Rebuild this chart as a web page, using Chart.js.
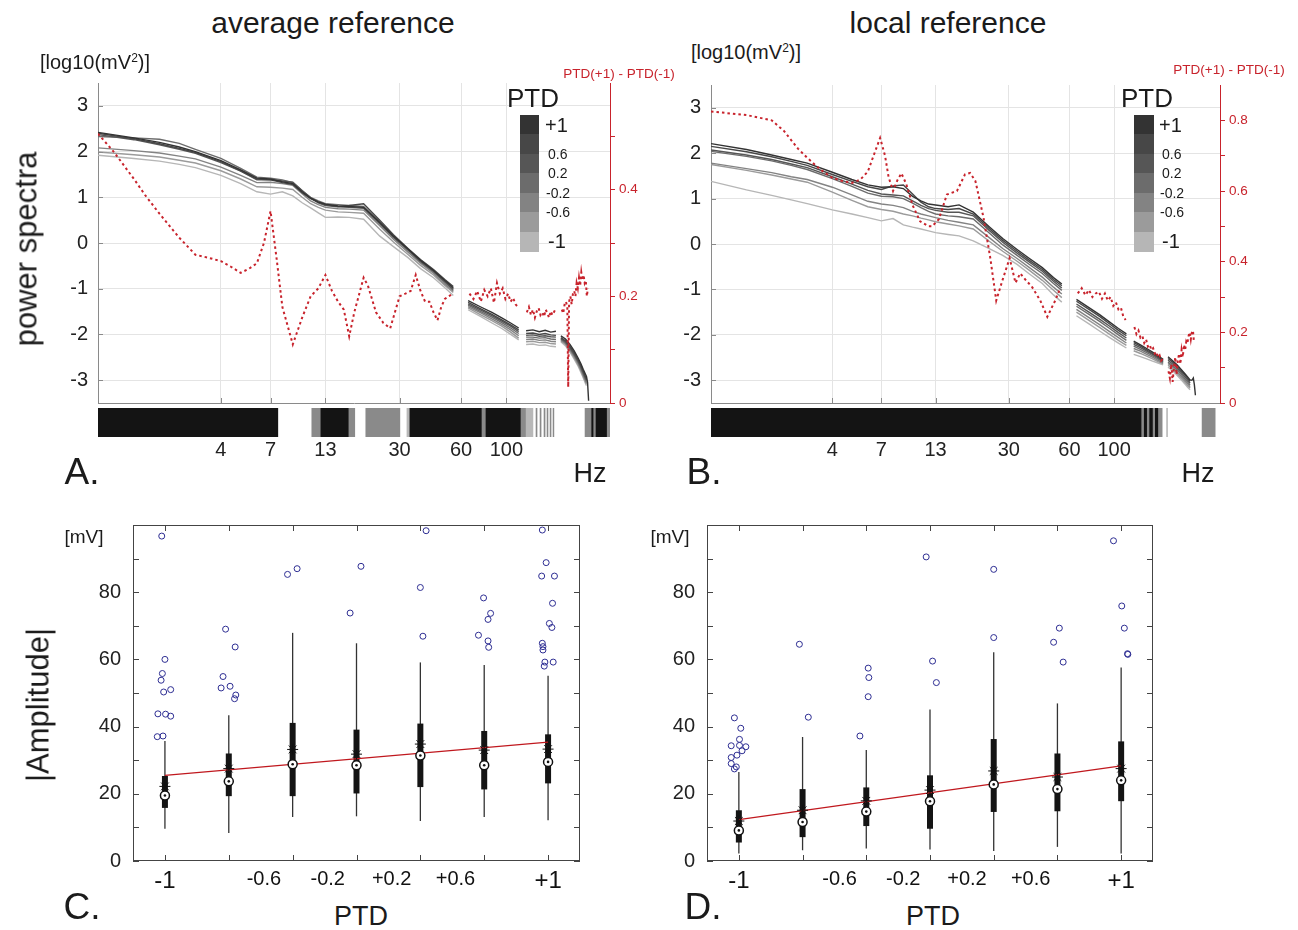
<!DOCTYPE html>
<html>
<head>
<meta charset="utf-8">
<title>PTD power spectra and amplitude</title>
<script src="https://cdn.jsdelivr.net/npm/chart.js@4.4.1/dist/chart.umd.min.js"></script>
<style>
html,body{margin:0;padding:0;background:#fff;}
body{width:1298px;height:930px;position:relative;overflow:hidden;font-family:"Liberation Sans",Arial,Helvetica,sans-serif;color:#1b1b1b;}
canvas{position:absolute;}
.t{position:absolute;white-space:nowrap;line-height:1;transform:translate(-50%,-50%);}
.l{position:absolute;white-space:nowrap;line-height:1;transform:translateY(-50%);}
.rot{transform:translate(-50%,-50%) rotate(-90deg);}
.red{color:#c8232c;}
.sw{position:absolute;}
sup{font-size:0.6em;vertical-align:0.6em;line-height:0;}
</style>
</head>
<body>
<canvas id="cA" width="640" height="340" style="left:30px;top:70px;width:640px;height:340px"></canvas>
<canvas id="cB" width="650" height="340" style="left:640px;top:70px;width:650px;height:340px"></canvas>
<canvas id="sA" width="530" height="65" style="left:90px;top:400px;width:530px;height:65px"></canvas>
<canvas id="sB" width="535" height="65" style="left:700px;top:400px;width:535px;height:65px"></canvas>
<canvas id="cC" width="560" height="400" style="left:50px;top:500px;width:560px;height:400px"></canvas>
<canvas id="cD" width="560" height="400" style="left:630px;top:500px;width:560px;height:400px"></canvas>

<div class="t" style="left:333px;top:23px;font-size:30px">average reference</div>
<div class="t" style="left:948px;top:23px;font-size:30px">local reference</div>
<div class="t" style="left:95px;top:62px;font-size:20px">[log10(mV<sup>2</sup>)]</div>
<div class="t" style="left:746px;top:52px;font-size:20px">[log10(mV<sup>2</sup>)]</div>
<div class="t rot" style="left:26px;top:249px;font-size:31px">power spectra</div>
<div class="t red" style="left:619px;top:74px;font-size:13.5px">PTD(+1) - PTD(-1)</div>
<div class="t red" style="left:1229px;top:70px;font-size:13.5px">PTD(+1) - PTD(-1)</div>
<div class="t" style="left:533px;top:98px;font-size:26px">PTD</div>
<div class="t" style="left:1147px;top:98px;font-size:26px">PTD</div>
<div class="t" style="left:590px;top:473px;font-size:27px">Hz</div>
<div class="t" style="left:1198px;top:473px;font-size:27px">Hz</div>
<div class="t" style="left:82px;top:471px;font-size:37px">A.</div>
<div class="t" style="left:704px;top:471px;font-size:37px">B.</div>
<div class="t" style="left:84px;top:536px;font-size:19px">[mV]</div>
<div class="t" style="left:670px;top:536px;font-size:19px">[mV]</div>
<div class="t rot" style="left:38px;top:705px;font-size:31px">|Amplitude|</div>
<div class="t" style="left:361px;top:916px;font-size:27px">PTD</div>
<div class="t" style="left:933px;top:916px;font-size:27px">PTD</div>
<div class="t" style="left:82px;top:906px;font-size:37px">C.</div>
<div class="t" style="left:703px;top:906px;font-size:37px">D.</div>
<div id="legends"></div>

<script>
// ================= DATA =================
// PTD groups, darkest (+1) to lightest (-1)
const ptdColors = ['#333333', '#474747', '#565656', '#6c6c6c', '#838383', '#9b9b9b', '#b6b6b6'];
const legendText = ['+1', '0.6', '0.2', '-0.2', '-0.6', '-1'];

// frequency axis (Hz); null rows are the removed line-noise bands
const freqTicks = [4, 7, 13, 30, 60, 100];
const powerTicks = [-3, -2, -1, 0, 1, 2, 3];
const freqHz = [1, 1.5, 2, 2.5, 3, 4, 5, 6, 7, 8, 9, 10, 11, 12, 13, 15, 17, 20, 24, 28, 33, 38, 44, 50, 55,
  60, 65, 75, 85, 95, 105, 115, 120, 125, 135, 145, 155, 165, 175, 180,
  185, 195, 205, 215, 225, 232, 238, 243, 247, 250, 253];

// A. average reference, log10 power per PTD group
const avgS0 = [2.42, 2.30, 2.20, 2.10, 2.00, 1.80, 1.60, 1.42, 1.40, 1.34, 1.30, 1.12, 0.98, 0.90, 0.85, 0.81, 0.80, 0.78, 0.45, 0.15, -0.13, -0.38, -0.60, -0.82, -0.98,
  null, -1.26, -1.40, -1.52, -1.64, -1.75, -1.86, null, -1.92, -1.90, -1.94, -1.91, -1.95, -1.93, null,
  -2.03, -2.10, -2.22, -2.36, -2.52, -2.64, -2.76, -2.85, -2.92, -3.05, -3.45];
const avgS1 = [2.40, 2.28, 2.17, 2.07, 1.98, 1.78, 1.58, 1.40, 1.38, 1.32, 1.28, 1.10, 0.97, 0.89, 0.84, 0.80, 0.82, 0.86, 0.50, 0.18, -0.12, -0.36, -0.58, -0.80, -0.95,
  null, -1.30, -1.44, -1.56, -1.68, -1.79, -1.90, null, -1.98, -1.97, -2.00, -1.98, -2.01, -2.02, null,
  -2.07, -2.14, -2.26, -2.40, -2.56, -2.68, -2.80, -2.90, -2.97, null, null];
const avgS2 = [2.37, 2.26, 2.15, 2.05, 1.96, 1.76, 1.57, 1.38, 1.39, 1.36, 1.33, 1.15, 0.99, 0.88, 0.82, 0.79, 0.78, 0.76, 0.42, 0.12, -0.16, -0.41, -0.63, -0.86, -1.02,
  null, -1.33, -1.47, -1.59, -1.71, -1.82, -1.94, null, -2.02, -2.01, -2.04, -2.03, -2.05, -2.06, null,
  -2.09, -2.16, -2.29, -2.43, -2.59, -2.71, -2.83, -2.93, -3.00, null, null];
const avgS3 = [2.33, 2.30, 2.27, 2.18, 2.05, 1.85, 1.63, 1.44, 1.42, 1.38, 1.32, 1.14, 1.00, 0.92, 0.86, 0.84, 0.82, 0.80, 0.47, 0.16, -0.14, -0.39, -0.61, -0.84, -1.00,
  null, -1.36, -1.50, -1.62, -1.74, -1.86, -1.98, null, -2.06, -2.06, -2.08, -2.07, -2.10, -2.11, null,
  -2.10, -2.18, -2.31, -2.45, -2.61, -2.74, -2.86, -2.96, -3.03, null, null];
const avgS4 = [2.08, 2.02, 1.97, 1.90, 1.84, 1.66, 1.48, 1.32, 1.33, 1.30, 1.26, 1.08, 0.92, 0.84, 0.78, 0.75, 0.74, 0.72, 0.38, 0.08, -0.20, -0.44, -0.66, -0.90, -1.05,
  null, -1.39, -1.53, -1.66, -1.78, -1.90, -2.03, null, -2.11, -2.10, -2.13, -2.12, -2.15, -2.16, null,
  -2.12, -2.20, -2.33, -2.48, -2.64, -2.77, -2.89, -2.99, -3.06, null, null];
const avgS5 = [1.99, 1.93, 1.88, 1.81, 1.75, 1.58, 1.40, 1.23, 1.22, 1.20, 1.17, 1.00, 0.86, 0.78, 0.72, 0.68, 0.67, 0.65, 0.30, 0.02, -0.25, -0.49, -0.70, -0.93, -1.08,
  null, -1.42, -1.57, -1.70, -1.82, -1.95, -2.08, null, -2.16, -2.15, -2.18, -2.17, -2.20, -2.21, null,
  -2.14, -2.22, -2.36, -2.51, -2.67, -2.80, -2.92, -3.02, -3.09, null, null];
const avgS6 = [1.92, 1.85, 1.79, 1.72, 1.65, 1.48, 1.30, 1.12, 1.07, 1.12, 1.03, 0.88, 0.77, 0.66, 0.56, 0.57, 0.56, 0.52, 0.15, -0.08, -0.32, -0.56, -0.76, -0.98, -1.15,
  null, -1.46, -1.61, -1.75, -1.87, -2.00, -2.12, null, -2.22, -2.21, -2.24, -2.23, -2.26, -2.27, null,
  -2.16, -2.25, -2.39, -2.54, -2.70, -2.83, -2.95, -3.05, -3.12, null, null];

// B. local reference
const locS0 = [2.21, 2.08, 1.96, 1.86, 1.78, 1.58, 1.42, 1.30, 1.25, 1.26, 1.22, 1.05, 0.95, 0.88, 0.86, 0.82, 0.86, 0.70, 0.38, 0.12, -0.12, -0.32, -0.52, -0.74, -0.88,
  null, -1.22, -1.40, -1.56, -1.72, -1.86, -1.98, null, -2.14, -2.22, -2.30, -2.38, -2.46, -2.54, null,
  -2.48, -2.57, -2.66, -2.76, -2.86, -2.93, -2.99, -3.00, -2.95, -3.10, -3.33];
const locS1 = [2.15, 2.03, 1.92, 1.82, 1.73, 1.53, 1.38, 1.26, 1.20, 1.28, 1.30, 1.10, 0.92, 0.82, 0.78, 0.76, 0.78, 0.66, 0.34, 0.08, -0.16, -0.36, -0.56, -0.78, -0.92,
  null, -1.26, -1.44, -1.60, -1.76, -1.90, -2.02, null, -2.17, -2.25, -2.33, -2.41, -2.48, -2.56, null,
  -2.52, -2.60, -2.69, -2.79, -2.89, -2.96, -3.02, null, null, null, null];
const locS2 = [2.07, 1.96, 1.86, 1.76, 1.68, 1.48, 1.32, 1.18, 1.10, 1.08, 1.06, 0.95, 0.85, 0.78, 0.74, 0.70, 0.70, 0.62, 0.30, 0.04, -0.20, -0.40, -0.60, -0.82, -0.97,
  null, -1.32, -1.50, -1.66, -1.81, -1.95, -2.07, null, -2.21, -2.28, -2.36, -2.43, -2.50, -2.58, null,
  -2.56, -2.64, -2.73, -2.83, -2.93, -3.00, -3.06, null, null, null, null];
const locS3 = [2.04, 1.93, 1.83, 1.73, 1.64, 1.44, 1.27, 1.12, 1.05, 1.04, 1.00, 0.90, 0.80, 0.72, 0.66, 0.62, 0.60, 0.55, 0.24, -0.02, -0.25, -0.45, -0.65, -0.87, -1.02,
  null, -1.37, -1.55, -1.71, -1.86, -2.00, -2.12, null, -2.25, -2.32, -2.39, -2.46, -2.53, -2.60, null,
  -2.60, -2.68, -2.77, -2.87, -2.97, -3.04, -3.10, null, null, null, null];
const locS4 = [1.78, 1.66, 1.57, 1.48, 1.42, 1.25, 1.08, 0.94, 0.88, 0.85, 0.80, 0.72, 0.66, 0.62, 0.58, 0.52, 0.48, 0.42, 0.14, -0.10, -0.32, -0.52, -0.73, -0.95, -1.10,
  null, -1.44, -1.62, -1.78, -1.93, -2.06, -2.18, null, -2.30, -2.36, -2.43, -2.49, -2.56, -2.62, null,
  -2.63, -2.71, -2.81, -2.91, -3.01, -3.08, -3.14, null, null, null, null];
const locS5 = [1.75, 1.62, 1.52, 1.43, 1.36, 1.14, 0.96, 0.82, 0.76, 0.72, 0.66, 0.62, 0.57, 0.53, 0.49, 0.44, 0.40, 0.33, 0.06, -0.16, -0.38, -0.58, -0.80, -1.02, -1.18,
  null, -1.50, -1.68, -1.84, -1.99, -2.12, -2.23, null, -2.35, -2.41, -2.47, -2.53, -2.59, -2.64, null,
  -2.67, -2.75, -2.85, -2.95, -3.05, -3.12, -3.17, null, null, null, null];
const locS6 = [1.38, 1.19, 1.07, 0.97, 0.89, 0.75, 0.66, 0.58, 0.51, 0.56, 0.42, 0.37, 0.33, 0.29, 0.25, 0.21, 0.18, 0.07, -0.10, -0.25, -0.45, -0.66, -0.87, -1.12, -1.28,
  null, -1.58, -1.76, -1.92, -2.06, -2.18, -2.29, null, -2.43, -2.48, -2.53, -2.58, -2.62, -2.66, null,
  -2.71, -2.79, -2.89, -2.99, -3.09, -3.16, -3.21, null, null, null, null];

// PTD(+1) - PTD(-1) difference (right axis)
const diffFreqA = [1, 1.2, 1.5, 1.7, 2, 2.5, 3, 3.5, 4, 4.5, 5, 5.5, 6, 6.5, 7, 7.5, 8, 9, 10, 11, 12, 13, 14, 15, 16, 17, 18, 20, 21, 23, 25, 27, 30, 32, 34, 36, 38, 40, 42, 44, 46, 48, 50, 52, 55,
  60, 66, 69, 72, 75, 78, 81, 84, 87, 90, 93, 96, 99, 102, 105, 108, 111, 114,
  120, 126, 129, 132, 135, 138, 141, 144, 147, 150, 153, 156, 159, 162, 165, 168, 171, 174,
  180, 187, 190, 193, 196, 199, 201, 203, 206, 209, 212, 215, 218, 221, 224, 227, 230, 233, 236, 239, 242, 245, 248, 251];
const diffA = [0.505, 0.47, 0.42, 0.39, 0.355, 0.31, 0.278, 0.272, 0.266, 0.255, 0.244, 0.252, 0.262, 0.30, 0.36, 0.27, 0.18, 0.11, 0.16, 0.20, 0.215, 0.24, 0.21, 0.19, 0.175, 0.125, 0.17, 0.235, 0.22, 0.17, 0.15, 0.14, 0.20, 0.205, 0.21, 0.24, 0.21, 0.19, 0.19, 0.17, 0.155, 0.18, 0.195, 0.20, 0.205,
  null, 0.205, 0.195, 0.21, 0.19, 0.212, 0.20, 0.215, 0.188, 0.225, 0.205, 0.215, 0.195, 0.205, 0.19, 0.197, 0.185, 0.18,
  null, 0.17, 0.18, 0.165, 0.175, 0.16, 0.172, 0.178, 0.165, 0.17, 0.162, 0.175, 0.168, 0.16, 0.172, 0.165, 0.17, 0.176,
  null, 0.175, 0.168, 0.185, 0.19, 0.18, 0.03, 0.19, 0.2, 0.185, 0.205, 0.21, 0.2, 0.225, 0.215, 0.235, 0.22, 0.245, 0.23, 0.24, 0.225, 0.23, 0.2, 0.215];
const diffFreqB = [1, 1.5, 2, 2.3, 2.7, 3, 3.5, 4, 4.5, 5, 5.5, 6, 6.5, 6.9, 7.3, 7.6, 8, 8.4, 8.8, 9.3, 10, 10.9, 12, 12.5, 13.5, 14.8, 16.6, 18.2, 19.3, 20.5, 22.5, 24.3, 26, 27.8, 30.3, 32.4, 34.2, 36.9, 39, 43, 46.6, 51, 54,
  60, 66, 69, 72, 75, 78, 81, 84, 87, 90, 93, 96, 99, 102, 105, 108, 111, 114,
  120, 126, 129, 132, 135, 138, 141, 144, 147, 150, 153, 156, 159, 162, 165, 168, 171, 174,
  180, 186, 189, 192, 195, 198, 201, 204, 207, 210, 213, 216, 219, 222, 225, 228, 231, 234, 237, 240, 243, 246, 249];
const diffB = [0.825, 0.815, 0.80, 0.77, 0.72, 0.694, 0.66, 0.637, 0.628, 0.623, 0.632, 0.655, 0.71, 0.75, 0.70, 0.64, 0.60, 0.63, 0.65, 0.62, 0.56, 0.514, 0.50, 0.50, 0.52, 0.59, 0.60, 0.647, 0.651, 0.628, 0.524, 0.41, 0.29, 0.344, 0.41, 0.34, 0.367, 0.344, 0.33, 0.29, 0.244, 0.29, 0.325,
  null, 0.31, 0.325, 0.305, 0.32, 0.30, 0.31, 0.315, 0.295, 0.31, 0.29, 0.30, 0.275, 0.285, 0.265, 0.27, 0.245, 0.235,
  null, 0.215, 0.195, 0.205, 0.185, 0.19, 0.17, 0.18, 0.16, 0.165, 0.15, 0.155, 0.14, 0.145, 0.13, 0.135, 0.12, 0.125,
  null, 0.09, 0.07, 0.11, 0.06, 0.10, 0.13, 0.08, 0.12, 0.14, 0.11, 0.15, 0.13, 0.165, 0.15, 0.175, 0.17, 0.19, 0.2, 0.18, 0.2, 0.205, 0.17];
const diffTicksA = [0, 0.1, 0.2, 0.3, 0.4, 0.5];
const diffLabelsA = ['0', '', '0.2', '', '0.4', ''];
const diffTicksB = [0, 0.1, 0.2, 0.3, 0.4, 0.5, 0.6, 0.7, 0.8];
const diffLabelsB = ['0', '', '0.2', '', '0.4', '', '0.6', '', '0.8'];

// significance strip: frequency bands [lo, hi] and level (2 strong, 1 medium, 0 weak)
const sigLoA = [1, 11.15, 12.35, 16.94, 20.5, 32.6, 33.7, 76.0, 79.5, 118, 125, 139.8, 146.3, 153, 158.3, 163.8, 169.4, 243, 262, 268, 275, 312];
const sigHiA = [7.6, 12.35, 16.94, 18.1, 30.1, 33.7, 76.0, 79.5, 118, 125, 135, 141.4, 148, 154.8, 160, 165.6, 171, 262, 268, 275, 312, 322];
const sigLvA = [2, 1, 2, 1, 1, 0, 2, 1, 2, 1, 0, 1, 1, 1, 1, 1, 1, 1, 2, 1, 2, 1];
const sigLoB = [1, 137, 141, 146, 150, 156, 160, 166, 182, 273];
const sigHiB = [137, 141, 146, 150, 156, 160, 166, 173, 184, 317];
const sigLvB = [2, 1, 2, 1, 2, 1, 2, 1, 0, 1];

// C/D box plots: 7 PTD bins
const ptdTickLabels = ['-1', '-0.6', '-0.2', '+0.2', '+0.6', '+1'];
const ptdLabelPosC = [0, 1.55, 2.55, 3.55, 4.55, 6];
const ptdLabelPosD = [0, 1.58, 2.58, 3.58, 4.58, 6];
const ptdCats = [0, 1, 2, 3, 4, 5, 6];
const ampTicks = [0, 10, 20, 30, 40, 50, 60, 70, 80, 90, 100];

const whiskLoC = [9.6, 8.3, 13.1, 13.3, 11.9, 13.1, 12.1];
const whiskHiC = [35.7, 43.4, 67.9, 64.8, 59.1, 58.3, 55.1];
const q1C = [15.8, 19.3, 19.3, 20.1, 22.0, 21.3, 23.1];
const q3C = [25.3, 32.0, 41.1, 39.1, 40.9, 38.7, 37.7];
const medC = [19.5, 23.7, 28.8, 28.5, 31.4, 28.5, 29.5];
const meanC = [22.2, 27.5, 33.2, 31.8, 34.8, 33.0, 33.3];
const fitC = [25.5, 35.4];
const outCatC = [0,0,0,0,0,0,0,0,0,0,0, 1,1,1,1,1,1,1, 2,2, 3,3, 4,4,4, 5,5,5,5,5,5, 6,6,6,6,6,6,6,6,6,6,6,6,6];
const outJitC = [-0.05,0,-0.04,-0.06,-0.02,0.09,-0.11,0.01,0.09,-0.12,-0.03, -0.05,0.1,-0.09,0.02,-0.12,0.11,0.09, -0.08,0.07, -0.1,0.07, 0.09,0,0.04, -0.01,0.1,0.06,-0.09,0.06,0.07, -0.09,-0.03,-0.1,0.1,0.07,0.02,0.06,-0.09,-0.08,-0.08,-0.05,0.08,-0.06];
const outValC = [96.7,60.0,55.8,53.8,50.3,51.0,43.8,43.7,43.1,37.0,37.2, 69.0,63.7,54.9,52.0,51.5,49.4,48.3, 85.3,87.0, 73.8,87.7, 98.3,81.4,66.9, 78.3,73.7,71.9,67.2,65.5,63.6, 98.5,88.8,84.8,84.8,76.7,70.7,69.5,64.8,63.8,62.8,59.2,59.2,58.0];

const whiskLoD = [2.2, 3.2, 3.7, 3.4, 3.0, 4.2, 2.2];
const whiskHiD = [26.5, 36.9, 33.0, 45.1, 62.1, 46.9, 57.6];
const q1D = [5.5, 7.1, 10.4, 9.6, 14.6, 14.8, 17.8];
const q3D = [15.1, 21.4, 21.9, 25.5, 36.3, 32.0, 35.6];
const medD = [9.1, 11.6, 14.7, 17.8, 22.8, 21.4, 24.0];
const meanD = [11.9, 15.1, 17.9, 21.1, 26.8, 25.0, 27.5];
const fitD = [12.3, 28.3];
const outCatD = [0,0,0,0,0,0,0,0,0,0,0,0, 1,1, 2,2,2,2, 3,3,3, 4,4, 5,5,5, 6,6,6,6,6];
const outJitD = [-0.07,0.03,0.01,-0.12,0.01,0.11,0.05,-0.03,-0.12,-0.12,-0.04,-0.07, -0.05,0.09, 0.03,0.04,0.03,-0.1, -0.06,0.04,0.1, 0,0, -0.06,0.03,0.09, -0.12,0.01,0.05,0.1,0.105];
const outValD = [42.6,39.5,36.2,34.3,34.4,34.0,32.8,31.5,30.8,29.0,28.0,27.4, 64.5,42.8, 57.4,54.6,48.9,37.2, 90.5,59.5,53.1, 86.8,66.5, 65.1,69.3,59.2, 95.3,75.9,69.3,61.7,61.5];

// ================= RENDER =================
const FONT = '"Liberation Sans", Arial, Helvetica, sans-serif';
Chart.defaults.font.family = FONT;
Chart.defaults.color = '#222';
Chart.defaults.animation = false;
Chart.defaults.events = [];
Chart.defaults.plugins.legend.display = false;
Chart.defaults.plugins.tooltip.enabled = false;

const RED = '#c8232c';
const shade = ['#b8b8b8', '#8a8a8a', '#141414'];

function fitW(w) { return s => { s.width = w; s.paddingTop = 0; s.paddingBottom = 0; s.paddingLeft = 0; s.paddingRight = 0; }; }
function fitH(h) { return s => { s.height = h; s.paddingTop = 0; s.paddingBottom = 0; s.paddingLeft = 0; s.paddingRight = 0; }; }
function setTicks(vals) { return s => { s.ticks = vals.map(v => ({ value: v })); }; }

const frameTicks = {
  id: 'frameTicks',
  afterDatasetsDraw(chart, args, o) {
    const ctx = chart.ctx, a = chart.chartArea;
    ctx.save();
    (o.items || []).forEach(it => {
      const s = chart.scales[it.scale];
      ctx.strokeStyle = it.color; ctx.lineWidth = 1;
      ctx.beginPath();
      it.values.forEach(v => {
        const p = Math.round(s.getPixelForValue(v)) + 0.5;
        if (s.isHorizontal()) {
          if (it.bottom) { ctx.moveTo(p, a.bottom); ctx.lineTo(p, a.bottom - it.len); }
          if (it.top) { ctx.moveTo(p, a.top); ctx.lineTo(p, a.top + it.len); }
        } else {
          if (it.left) { ctx.moveTo(a.left, p); ctx.lineTo(a.left + it.len, p); }
          if (it.right) { ctx.moveTo(a.right, p); ctx.lineTo(a.right - it.len, p); }
        }
      });
      ctx.stroke();
    });
    if (o.frame) {
      ctx.strokeStyle = o.frame; ctx.lineWidth = 1;
      ctx.strokeRect(Math.round(a.left) + 0.5, Math.round(a.top) + 0.5, Math.round(a.right - a.left) - 1, Math.round(a.bottom - a.top) - 1);
    }
    ctx.restore();
  }
};

function spectrum(id, o) {
  const ds = o.series.map((arr, i) => ({
    data: freqHz.map((f, j) => ({ x: f, y: arr[j] })),
    borderColor: ptdColors[i], borderWidth: 1.4, pointRadius: 0, spanGaps: false,
    yAxisID: 'y', order: i + 1, tension: 0
  }));
  ds.push({
    data: o.diffF.map((f, j) => ({ x: f, y: o.diffV[j] })),
    borderColor: RED, borderWidth: 2, borderDash: [2.5, 3], pointRadius: 0, spanGaps: false,
    yAxisID: 'y1', order: 0
  });
  return new Chart(document.getElementById(id), {
    type: 'line',
    data: { datasets: ds },
    options: {
      responsive: false, maintainAspectRatio: false,
      layout: { padding: { top: o.padTop, left: 0, right: 0, bottom: 0 } },
      scales: {
        x: { type: 'logarithmic', min: 1, max: o.xMax, afterBuildTicks: setTicks(freqTicks),
             ticks: { display: false }, grid: { color: '#e4e4e4', drawTicks: false },
             border: { color: '#8a8a8a' }, afterFit: fitH(7) },
        y: { type: 'linear', min: -3.5, max: 3.5, afterBuildTicks: setTicks(powerTicks),
             ticks: { font: { size: 20 }, color: '#222', padding: 10 },
             grid: { color: '#e4e4e4', drawTicks: false }, border: { color: '#8a8a8a' },
             afterFit: fitW(o.leftW) },
        y1: { type: 'linear', position: 'right', min: 0, max: o.redMax, afterBuildTicks: setTicks(o.redTicks),
              ticks: { color: RED, font: { size: 13.5 }, padding: 4, callback: (v, i) => o.redLabels[i] },
              grid: { drawOnChartArea: false, color: RED, tickLength: 5 }, border: { color: RED },
              afterFit: fitW(o.rightW) }
      },
      plugins: { frameTicks: { items: [
        { scale: 'x', values: freqTicks, bottom: true, len: 5, color: '#8a8a8a' },
        { scale: 'y', values: powerTicks, left: true, len: 5, color: '#8a8a8a' }
      ] } }
    },
    plugins: [frameTicks]
  });
}

function sigStrip(id, o) {
  return new Chart(document.getElementById(id), {
    type: 'bar',
    data: { labels: ['sig'], datasets: [{
      data: o.lo.map((s, i) => ({ x: [s, o.hi[i]], y: 'sig' })),
      backgroundColor: o.lv.map(k => shade[k]), borderWidth: 0,
      barPercentage: 1, categoryPercentage: 1
    }] },
    options: {
      indexAxis: 'y', responsive: false, maintainAspectRatio: false,
      layout: { padding: { top: 8, left: o.padL, right: o.padR, bottom: 0 } },
      scales: {
        y: { display: false },
        x: { type: 'logarithmic', min: 1, max: o.xMax, afterBuildTicks: setTicks(freqTicks),
             ticks: { callback: v => String(v), font: { size: 20 }, color: '#222', padding: 1, autoSkip: false, maxRotation: 0 },
             grid: { display: false, drawTicks: false }, border: { display: false }, afterFit: fitH(28) }
      }
    }
  });
}

function boxPlot(id, o) {
  const pts = arr => arr.map((v, i) => ({ x: ptdCats[i], y: v }));
  return new Chart(document.getElementById(id), {
    type: 'bar',
    data: { datasets: [
      { type: 'bar', data: o.wLo.map((v, i) => ({ x: ptdCats[i], y: [v, o.wHi[i]] })),
        backgroundColor: '#333', maxBarThickness: 1.3, grouped: false, order: 7 },
      { type: 'bar', data: o.q1.map((v, i) => ({ x: ptdCats[i], y: [v, o.q3[i]] })),
        backgroundColor: '#141414', maxBarThickness: 6, grouped: false, order: 6 },
      { type: 'line', data: [{ x: ptdCats[0], y: o.fit[0] }, { x: ptdCats[6], y: o.fit[1] }],
        borderColor: '#c0181e', borderWidth: 1.2, pointRadius: 0, order: 5 },
      { type: 'line', showLine: false, data: pts(o.mean), pointStyle: 'star', pointRadius: 5.5,
        pointBorderColor: '#111', pointBorderWidth: 1, order: 4 },
      { type: 'line', showLine: false, data: pts(o.med), pointRadius: 4.5,
        pointBackgroundColor: '#fff', pointBorderColor: '#111', pointBorderWidth: 1.5, order: 3 },
      { type: 'line', showLine: false, data: pts(o.med), pointRadius: 1.3,
        pointBackgroundColor: '#111', pointBorderWidth: 0, order: 2 },
      { type: 'line', showLine: false, data: o.oCat.map((c, i) => ({ x: c + o.oJit[i], y: o.oVal[i] })),
        pointRadius: 3, pointBackgroundColor: 'rgba(0,0,0,0)', pointBorderColor: '#2d2d92', pointBorderWidth: 1, order: 1 }
    ] },
    options: {
      responsive: false, maintainAspectRatio: false,
      layout: { padding: { top: 25, left: 0, right: o.padR, bottom: 0 } },
      scales: {
        x: { type: 'linear', offset: false, min: -0.5, max: 6.5, afterBuildTicks: setTicks(o.labelPos),
             ticks: { callback: (v, i) => ptdTickLabels[i], color: '#111', padding: 6, autoSkip: false, maxRotation: 0,
                      font: c => ({ family: FONT, size: (c.index === 0 || c.index === 5) ? 24 : 20 }) },
             grid: { display: false, drawTicks: false, offset: false }, border: { display: false }, afterFit: fitH(39) },
        y: { type: 'linear', min: 0, max: 100, afterBuildTicks: setTicks(ampTicks),
             ticks: { callback: v => (v % 20 === 0 && v < 100) ? String(v) : '', font: { size: 20 }, color: '#222', padding: 12 },
             grid: { display: false, drawTicks: false }, border: { display: false }, afterFit: fitW(o.leftW) }
      },
      plugins: { frameTicks: { frame: '#444', items: [
        { scale: 'x', values: ptdCats, top: true, bottom: true, len: 6, color: '#444' },
        { scale: 'y', values: ampTicks, left: true, right: true, len: 6, color: '#444' }
      ] } }
    },
    plugins: [frameTicks]
  });
}

spectrum('cA', { series: [avgS0, avgS1, avgS2, avgS3, avgS4, avgS5, avgS6], diffF: diffFreqA, diffV: diffA,
  xMax: 322, padTop: 13, leftW: 68, rightW: 60, redMax: 0.6, redTicks: diffTicksA, redLabels: diffLabelsA });
spectrum('cB', { series: [locS0, locS1, locS2, locS3, locS4, locS5, locS6], diffF: diffFreqB, diffV: diffB,
  xMax: 335, padTop: 15, leftW: 71, rightW: 70, redMax: 0.9, redTicks: diffTicksB, redLabels: diffLabelsB });
sigStrip('sA', { lo: sigLoA, hi: sigHiA, lv: sigLvA, xMax: 322, padL: 8, padR: 10 });
sigStrip('sB', { lo: sigLoB, hi: sigHiB, lv: sigLvB, xMax: 335, padL: 11, padR: 15 });
boxPlot('cC', { wLo: whiskLoC, wHi: whiskHiC, q1: q1C, q3: q3C, med: medC, mean: meanC, fit: fitC,
  oCat: outCatC, oJit: outJitC, oVal: outValC, labelPos: ptdLabelPosC, leftW: 83, padR: 30 });
boxPlot('cD', { wLo: whiskLoD, wHi: whiskHiD, q1: q1D, q3: q3D, med: medD, mean: meanD, fit: fitD,
  oCat: outCatD, oJit: outJitD, oVal: outValD, labelPos: ptdLabelPosD, leftW: 77, padR: 37 });

// PTD colour legends (HTML)
function legend(x0, w) {
  const host = document.getElementById('legends');
  const top = 115, h = 19.43;
  ptdColors.forEach((c, i) => {
    const d = document.createElement('div');
    d.className = 'sw';
    d.style.cssText = `left:${x0}px;top:${top + i * h}px;width:${w}px;height:${h + 0.5}px;background:${c}`;
    host.appendChild(d);
  });
  const pos = [0.5, 2, 3, 4, 5, 6.5];
  const size = [20, 14, 14, 14, 14, 20];
  const dx = [25, 28, 28, 26, 26, 28];
  legendText.forEach((t, i) => {
    const d = document.createElement('div');
    d.className = 'l';
    d.style.cssText = `left:${x0 + dx[i]}px;top:${top + pos[i] * h}px;font-size:${size[i]}px`;
    d.textContent = t;
    host.appendChild(d);
  });
}
legend(520, 19);
legend(1134, 20);
</script>
</body>
</html>
